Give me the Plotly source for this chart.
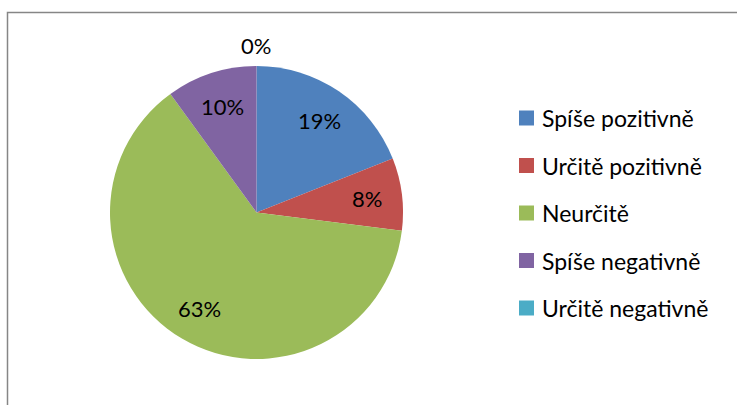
import math
import plotly.graph_objects as go

labels = ["Spíše pozitivně", "Určitě pozitivně", "Neurčitě", "Spíše negativně", "Určitě negativně"]
values = [19, 8, 63, 10, 0]
colors = ["#4F81BD", "#C0504D", "#9BBB59", "#8064A2", "#4BACC6"]

W, H = 737, 405
FONT = "Lato"
CX, CY, R = 256.5, 212.5, 146.5   # pie centre / radius in pixels

total = sum(values)
texts = [f"{round(v / total * 100)}%" for v in values]

fig = go.Figure()
fig.add_trace(go.Pie(
    labels=labels,
    values=values,
    textinfo="none",
    sort=False,
    direction="clockwise",
    rotation=0,
    marker=dict(colors=colors, line=dict(width=0)),
    domain=dict(x=[(CX - R) / W, (CX + R) / W],
                y=[1 - (CY + R) / H, 1 - (CY - R) / H]),
    showlegend=False,
))

shapes = [dict(type="rect", xref="paper", yref="paper",
               x0=7.5 / W, x1=1.05, y0=-0.05, y1=1 - 12.5 / H,
               line=dict(color="#868686", width=1.5))]
annotations = []

# data labels placed at slice mid-angles
cum = 0
for v, t in zip(values, texts):
    mid = (cum + v / 2) / total * 2 * math.pi
    cum += v
    rr = 0.76 * R if v > 0 else 1.14 * R
    px = CX + rr * math.sin(mid)
    py = CY - rr * math.cos(mid)
    annotations.append(dict(text=t, xref="paper", yref="paper",
                            x=px / W, y=1 - py / H, xanchor="center", yanchor="middle",
                            showarrow=False, font=dict(family=FONT, size=22, color="black")))

# legend
row0, gap = 118, 47.5
for i, (lab, col) in enumerate(zip(labels, colors)):
    yc = row0 + i * gap
    shapes.append(dict(type="rect", xref="paper", yref="paper",
                       x0=519 / W, x1=534 / W,
                       y0=1 - (yc + 7.5) / H, y1=1 - (yc - 7.5) / H,
                       fillcolor=col, line=dict(width=0)))
    annotations.append(dict(text=lab, xref="paper", yref="paper",
                            x=540 / W, y=1 - yc / H, xanchor="left", yanchor="middle",
                            showarrow=False, font=dict(family=FONT, size=23, color="black")))

fig.update_layout(
    width=W, height=H,
    margin=dict(l=0, r=0, t=0, b=0),
    paper_bgcolor="white",
    plot_bgcolor="white",
    shapes=shapes,
    annotations=annotations,
)
fig.write_html("out.html", config={"displayModeBar": False},
               post_script="document.body.style.margin='0';")
